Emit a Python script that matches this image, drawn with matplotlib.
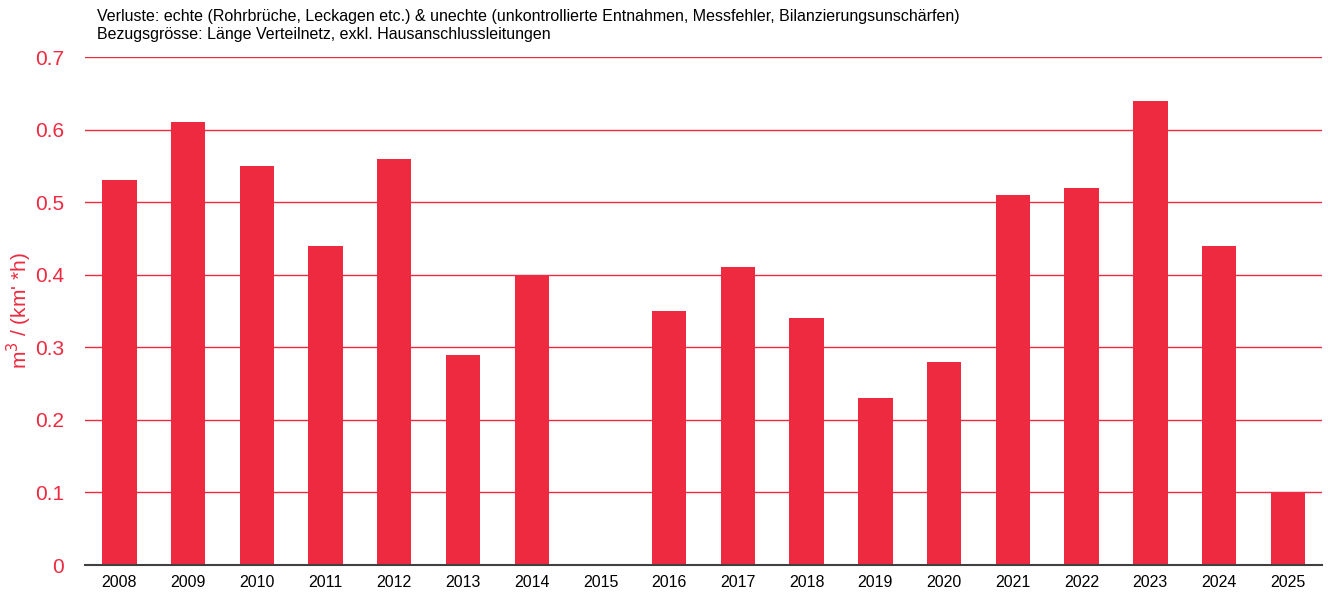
import matplotlib.pyplot as plt
import numpy as np

plt.rcParams['font.family'] = ['Liberation Sans', 'DejaVu Sans']

years = ['2008', '2009', '2010', '2011', '2012', '2013', '2014', '2015', '2016',
         '2017', '2018', '2019', '2020', '2021', '2022', '2023', '2024', '2025']
losses = [0.53, 0.61, 0.55, 0.44, 0.56, 0.29, 0.40, 0.0, 0.35,
          0.41, 0.34, 0.23, 0.28, 0.51, 0.52, 0.64, 0.44, 0.10]
yticks = [0, 0.1, 0.2, 0.3, 0.4, 0.5, 0.6, 0.7]
ytick_labels = ['0', '0.1', '0.2', '0.3', '0.4', '0.5', '0.6', '0.7']

red = '#ee2a40'

fig = plt.figure(figsize=(13.28, 5.92), dpi=100)
ax = fig.add_axes([0.064, 0.0456, 0.9316, 0.858])

x = np.arange(len(years))
ax.bar(x, losses, width=0.5, color=red, zorder=3)

ax.set_ylim(0, 0.7)
ax.set_xlim(-0.5, len(years) - 0.5)
ax.set_yticks(yticks)
ax.set_yticklabels(ytick_labels)
ax.set_xticks(x)
ax.set_xticklabels(years)
ax.yaxis.grid(True, color=red, linewidth=1, zorder=0)
ax.set_axisbelow(True)

for s in ['top', 'right', 'left']:
    ax.spines[s].set_visible(False)
ax.spines['bottom'].set_color('#404040')
ax.spines['bottom'].set_linewidth(1.5)
ax.spines['bottom'].set_zorder(4)

ax.tick_params(axis='y', length=0, labelsize=15, labelcolor=red, pad=15)
ax.tick_params(axis='x', length=0, labelsize=11.5, pad=7)

ax.set_ylabel('m$^3$ / (km\' *h)', color=red, fontsize=15, labelpad=1)

fig.text(0.073, 0.972, 'Verluste: echte (Rohrbrüche, Leckagen etc.) & unechte (unkontrollierte Entnahmen, Messfehler, Bilanzierungsunschärfen)',
         fontsize=11.5, va='center')
fig.text(0.073, 0.941, 'Bezugsgrösse: Länge Verteilnetz, exkl. Hausanschlussleitungen',
         fontsize=11.5, va='center')

fig.savefig('out.png', dpi=100)
